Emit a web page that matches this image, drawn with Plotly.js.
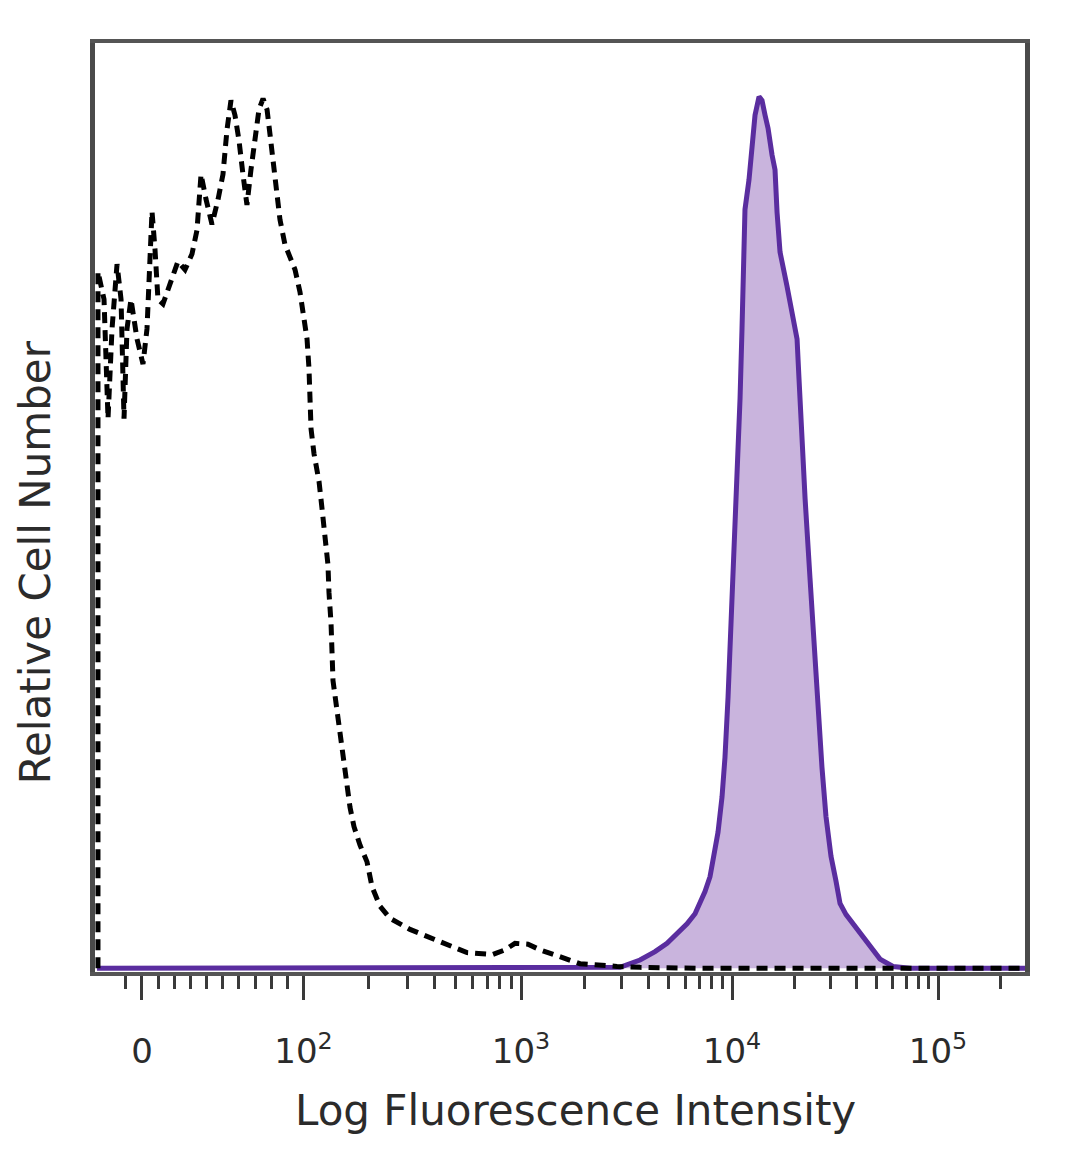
<!DOCTYPE html>
<html>
<head>
<meta charset="utf-8">
<script src="https://cdn.plot.ly/plotly-3.0.1.min.js"></script>
<style>html,body{margin:0;padding:0;background:#fff;}#chart{width:1080px;height:1169px;}</style>
</head>
<body>
<div id="chart"></div>
<script>
// Display channel (biexponential scale, 0-1000) and relative cell number (% of axis)
const isotypeChannel = [3.2,3.2,9.7,14.0,18.3,23.7,28.0,31.2,34.4,38.7,45.2,51.6,55.9,59.1,61.3,64.5,67.7,73.1,80.6,89.2,96.8,104.3,109.7,114.0,119.4,125.8,132.3,137.6,141.9,146.2,150.5,154.8,159.1,163.4,167.7,172.0,176.3,180.7,185.0,188.2,191.4,194.6,198.9,204.3,209.7,215.1,220.4,223.7,228.0,230.1,231.2,232.3,235.5,240.9,244.1,247.3,250.5,251.6,253.8,255.9,260.2,263.4,267.7,271.0,274.2,278.5,285.0,292.5,297.9,306.5,317.2,338.7,374.2,400.0,428.0,440.9,451.6,465.6,478.5,500.0,521.5,561.3,586.0,650.6,996.8];
const isotypeCount   = [0,75.3,72.3,59.4,69.1,76.1,72.3,59.4,69.1,72.3,68.0,65.3,69.1,76.6,81.8,77.7,72.3,71.8,73.9,76.4,75.5,77.2,79.8,85.8,83.1,80.4,83.1,85.8,90.6,93.8,92.2,89.5,85.8,82.5,86.3,90.1,92.8,94.0,92.8,90.1,87.4,84.1,80.9,78.2,76.8,75.5,73.1,71.2,68.0,64.8,61.6,58.3,55.6,52.6,49.7,46.8,43.6,40.6,37.3,31.1,27.7,25.0,22.3,19.9,17.4,15.3,13.3,11.5,8.8,6.7,5.4,4.2,2.7,1.7,1.5,2.0,2.7,2.6,2.0,1.3,0.5,0.2,0.1,0,0];

const stainedChannel = [2.2,543.0,564.5,586.0,602.2,615.1,626.9,636.6,645.2,650.6,655.9,661.3,665.6,669.9,674.2,677.4,680.7,683.9,687.1,690.3,693.6,695.7,696.8,698.9,703.2,706.5,709.7,714.0,717.2,720.5,723.7,728.0,731.2,733.4,736.6,744.1,749.5,754.9,757.0,759.2,763.5,768.8,773.1,777.4,781.7,786.0,791.4,796.8,801.1,807.6,815.1,822.6,830.1,837.7,844.1,858.1,876.4,1000];
const stainedCount   = [0,0,0.1,0.9,1.8,2.7,3.8,4.8,5.9,7.0,8.3,9.9,12.1,14.7,18.5,22.8,29.3,36.8,44.3,52.9,61.6,69.1,73.4,82.0,85.2,88.8,92.2,94.2,93.8,92.2,90.8,87.9,86.3,81.7,77.4,73.7,70.7,68.0,63.7,58.3,50.8,42.2,34.6,28.2,21.7,16.4,12.1,9.4,7.0,5.8,4.8,3.7,2.7,1.7,1.0,0.2,0,0];

// Axis: labelled values and the display channel of each decade
const tickLabels    = ['0','10<sup>2</sup>','10<sup>3</sup>','10<sup>4</sup>','10<sup>5</sup>'];
const decadeValues  = [100, 1000, 10000, 100000];
const decadeChannel = [224.2, 458.1, 685.0, 906.5];
const zeroChannel   = 50.5;
const minorValues   = [-10,10,20,30,40,50,60,70,80,90,
  200,300,400,500,600,700,800,900,
  2000,3000,4000,5000,6000,7000,8000,9000,
  20000,30000,40000,50000,60000,70000,80000,90000,200000];
const xTitle = 'Log Fluorescence Intensity';
const yTitle = 'Relative Cell Number';

function toChannel(v){
  if (v <= 100) return zeroChannel + (v/100)*(decadeChannel[0]-zeroChannel);
  const lg = Math.log10(v);
  let k = Math.min(Math.floor(lg) - 2, decadeChannel.length - 2);
  const span = decadeChannel[k+1] - decadeChannel[k];
  return decadeChannel[k] + (lg - (k+2)) * span;
}
const majorVals = [zeroChannel].concat(decadeChannel);
const minorVals = minorValues.map(toChannel);

const traces = [
  {
    x: stainedChannel, y: stainedCount, type: 'scatter', mode: 'lines',
    fill: 'tozeroy', fillcolor: '#c9b4dd',
    line: {color: '#5a2d9f', width: 5},
    hoverinfo: 'skip', showlegend: false
  },
  {
    x: isotypeChannel, y: isotypeCount, type: 'scatter', mode: 'lines',
    line: {color: '#000000', width: 5, dash: '11px,7px'},
    hoverinfo: 'skip', showlegend: false
  }
];

const fontFam = 'DejaVu Sans, Verdana, sans-serif';
const layout = {
  width: 1080, height: 1169,
  margin: {l: 95, r: 55, t: 43, b: 197},
  paper_bgcolor: '#ffffff', plot_bgcolor: '#ffffff',
  showlegend: false,
  xaxis: {
    range: [0, 1000],
    tickmode: 'array', tickvals: majorVals, ticktext: tickLabels,
    ticks: 'outside', ticklen: 24, tickwidth: 3, tickcolor: '#3a3a3a',
    ticklabelstandoff: 22,
    minor: {tickmode: 'array', tickvals: minorVals, ticks: 'outside', ticklen: 13, tickwidth: 3, tickcolor: '#3a3a3a', showgrid: false},
    showline: true, linecolor: '#555555', linewidth: 4, mirror: true,
    showgrid: false, zeroline: false,
    tickfont: {family: fontFam, size: 34, color: '#2b2b2b'}
  },
  yaxis: {
    range: [-0.4, 100],
    showticklabels: false, ticks: '',
    showline: true, linecolor: '#4a4a4a', linewidth: 5, mirror: true,
    showgrid: false, zeroline: false
  },
  annotations: [
    {
      text: xTitle, xref: 'paper', yref: 'paper', x: 0.517, y: -0.149,
      xanchor: 'center', yanchor: 'middle', showarrow: false,
      font: {family: fontFam, size: 42, color: '#2b2b2b'}
    },
    {
      text: yTitle, xref: 'paper', yref: 'paper', x: -0.0645, y: 0.441,
      xanchor: 'center', yanchor: 'middle', textangle: -90, showarrow: false,
      font: {family: fontFam, size: 42, color: '#2b2b2b'}
    }
  ]
};

Plotly.newPlot('chart', traces, layout, {staticPlot: true, displayModeBar: false});
</script>
</body>
</html>
